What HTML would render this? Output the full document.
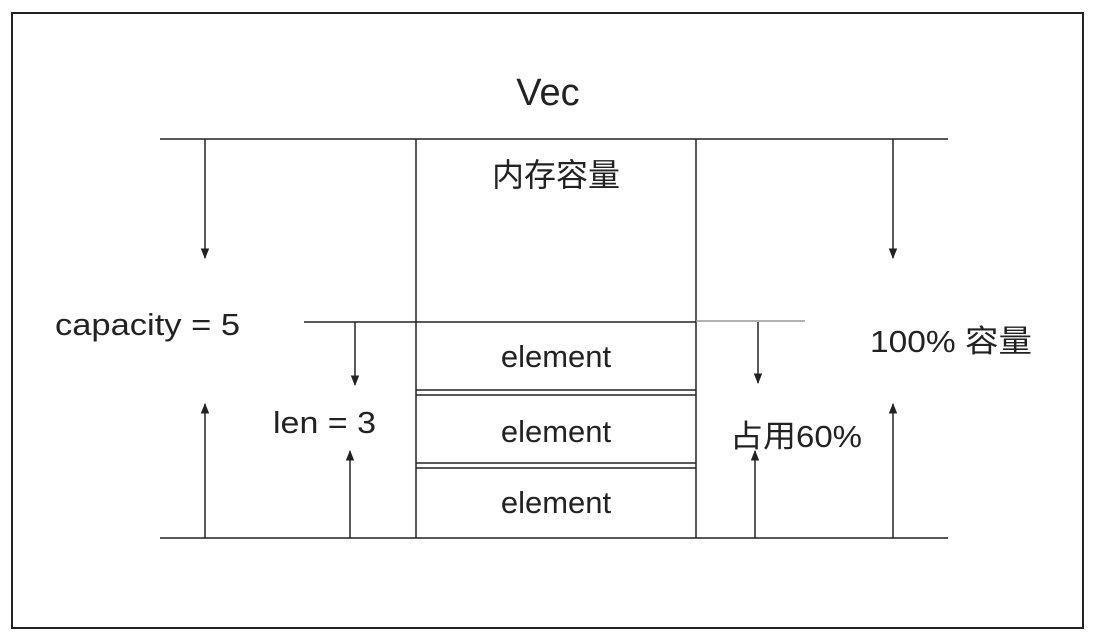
<!DOCTYPE html>
<html><head><meta charset="utf-8"><style>
body{margin:0;background:#fff;}
svg{display:block;}
text{font-family:"Liberation Sans","Noto Sans CJK SC",sans-serif;fill:#222;}
</style></head><body>
<svg width="1094" height="639" viewBox="0 0 1094 639">
<defs>
<marker id="a" viewBox="0 0 10 10" refX="9" refY="5" markerWidth="7" markerHeight="7" orient="auto"><path d="M0,1 L10,5 L0,9 z" fill="#222"/></marker>
</defs>
<rect x="12" y="13" width="1071" height="615" fill="none" stroke="#222" stroke-width="2"/>
<g stroke="#222" stroke-width="1.5" fill="none">
<line x1="160" y1="139" x2="948" y2="139"/>
<line x1="160" y1="538" x2="948" y2="538"/>
<line x1="416" y1="139" x2="416" y2="538"/>
<line x1="696" y1="139" x2="696" y2="538"/>
<line x1="304" y1="322" x2="416" y2="322"/>
<line x1="416" y1="322" x2="696" y2="322"/>
<line x1="416" y1="390" x2="696" y2="390"/>
<line x1="416" y1="395" x2="696" y2="395"/>
<line x1="416" y1="463" x2="696" y2="463"/>
<line x1="416" y1="468" x2="696" y2="468"/>
<line x1="696" y1="321" x2="805" y2="321" stroke="#999"/>
<line x1="205" y1="139" x2="205" y2="258" marker-end="url(#a)"/>
<line x1="205" y1="538" x2="205" y2="404" marker-end="url(#a)"/>
<line x1="355" y1="322" x2="355" y2="385" marker-end="url(#a)"/>
<line x1="350" y1="538" x2="350" y2="451" marker-end="url(#a)"/>
<line x1="758" y1="322" x2="758" y2="383" marker-end="url(#a)"/>
<line x1="755" y1="538" x2="755" y2="451" marker-end="url(#a)"/>
<line x1="893" y1="139" x2="893" y2="258" marker-end="url(#a)"/>
<line x1="893" y1="538" x2="893" y2="404" marker-end="url(#a)"/>
</g>
<text x="548" y="105" font-size="38" text-anchor="middle">Vec</text>
<text x="556" y="186" font-size="32" text-anchor="middle">内存容量</text>
<text x="55" y="335" font-size="31" textLength="185" lengthAdjust="spacingAndGlyphs">capacity = 5</text>
<text x="273" y="433" font-size="31" textLength="103" lengthAdjust="spacingAndGlyphs">len = 3</text>
<text x="870" y="352" font-size="31" textLength="162" lengthAdjust="spacingAndGlyphs">100% 容量</text>
<text x="730" y="447" font-size="31" textLength="132" lengthAdjust="spacingAndGlyphs">占用60%</text>
<text x="556" y="367" font-size="31" text-anchor="middle">element</text>
<text x="556" y="442" font-size="31" text-anchor="middle">element</text>
<text x="556" y="513" font-size="31" text-anchor="middle">element</text>
</svg>
</body></html>
